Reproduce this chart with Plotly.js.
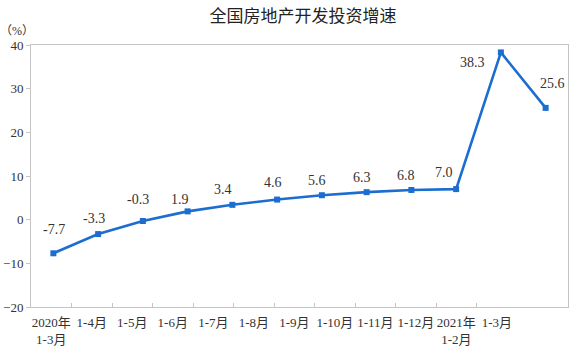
<!DOCTYPE html>
<html>
<head>
<meta charset="utf-8">
<script src="https://cdn.plot.ly/plotly-3.0.1.min.js"></script>
<style>html,body{margin:0;padding:0;background:#fff;}#chart{width:574px;height:352px;}</style>
</head>
<body>
<div id="chart"></div>
<script>
// Data
const categories = ["2020年<br>1-3月","1-4月","1-5月","1-6月","1-7月","1-8月","1-9月","1-10月","1-11月","1-12月","2021年<br>1-2月","1-3月"];
const growth = [-7.7, -3.3, -0.3, 1.9, 3.4, 4.6, 5.6, 6.3, 6.8, 7.0, 38.3, 25.6];
const valueLabels = ["-7.7","-3.3","-0.3","1.9","3.4","4.6","5.6","6.3","6.8","7.0","38.3","25.6"];
// label offsets (pixels) relative to each point
const labelDx = [1, -4, -5, -8, -9, -4, -5, -5, -5, -12, -28, 7];
const labelDy = [24, 16, 21, 12, 15, 17, 15, 15, 14, 17, -10, 24];

const serif = "Liberation Serif, Times New Roman, Noto Sans CJK SC, serif";
const axisColor = "#c4c4c4";
const lineColor = "#1c6dd0";

const traces = [
  {
    x: categories, y: growth, type: "scatter", mode: "markers",
    marker: {opacity: 0, size: 1}, xaxis: "x2", yaxis: "y",
    hoverinfo: "skip", showlegend: false
  },
  {
    x: categories, y: growth, type: "scatter", mode: "lines+markers",
    line: {color: lineColor, width: 2.6},
    marker: {symbol: "square", size: 6, color: lineColor},
    xaxis: "x", yaxis: "y", hoverinfo: "skip", showlegend: false, cliponaxis: false
  }
];

const annotations = categories.map((c, i) => ({
  x: c, y: growth[i], xref: "x", yref: "y",
  text: valueLabels[i], showarrow: false,
  xanchor: "center", yanchor: "middle",
  xshift: labelDx[i], yshift: labelDy[i],
  font: {family: serif, size: 14, color: "#333"}
}));
annotations.push({
  x: (17 - 31) / 537, y: 1 + (45 - 31) / 262, xref: "paper", yref: "paper",
  xanchor: "center", yanchor: "middle",
  text: "（%）", showarrow: false,
  font: {family: serif, size: 12, color: "#333"}
});

const layout = {
  width: 574, height: 352,
  margin: {l: 31, r: 6, t: 45, b: 45},
  paper_bgcolor: "#fff", plot_bgcolor: "rgba(0,0,0,0)",
  title: {
    text: "全国房地产开发投资增速",
    font: {family: "Noto Sans CJK SC, sans-serif", size: 17, color: "#222"},
    x: 0.528, xanchor: "center", y: 0.955, yanchor: "middle"
  },
  xaxis: {
    type: "category", range: [-0.5, 11.5], domain: [0, 1],
    showticklabels: false, ticks: "", showgrid: false, zeroline: false,
    showline: true, linecolor: axisColor, linewidth: 1, mirror: true
  },
  xaxis2: {
    type: "category", range: [-0.5, 11.49], domain: [0, 0.9045], anchor: "y",
    showticklabels: true, ticks: "inside", tickson: "boundaries", ticklen: 4,
    tickangle: 0, ticklabelstandoff: 6,
    tickcolor: axisColor, showgrid: false, zeroline: false, showline: false,
    tickfont: {family: serif, size: 13, color: "#333"}
  },
  yaxis: {
    range: [-20, 40], dtick: 10, tick0: 0, ticks: "outside", ticklen: 4,
    tickcolor: axisColor, showgrid: false, zeroline: false,
    showline: true, linecolor: axisColor, linewidth: 1, mirror: true,
    tickfont: {family: serif, size: 13, color: "#333"}
  },
  annotations: annotations,
  showlegend: false
};

Plotly.newPlot("chart", traces, layout, {displayModeBar: false, staticPlot: true});
</script>
</body>
</html>
